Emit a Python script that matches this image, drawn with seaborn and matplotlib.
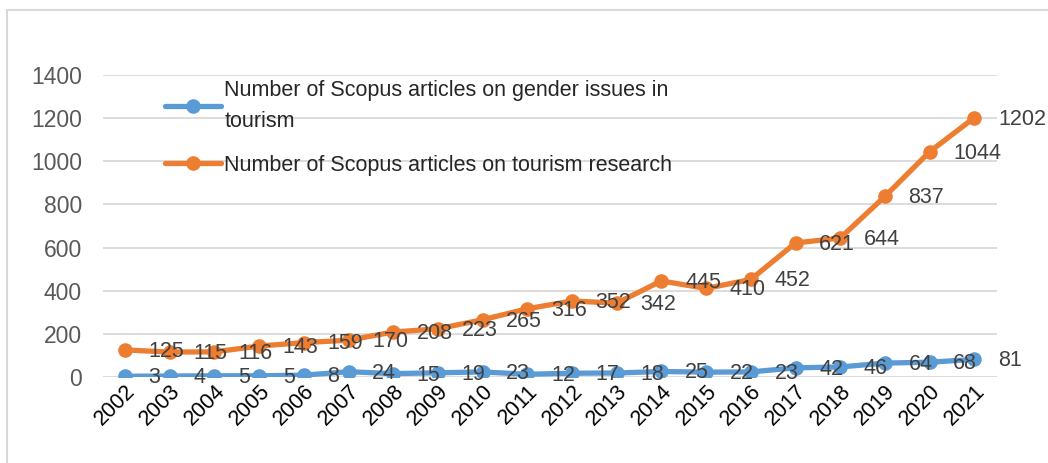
import pandas as pd
import matplotlib.pyplot as plt
import seaborn as sns
from matplotlib.lines import Line2D

years = [str(y) for y in range(2002, 2022)]
gender = [3, 4, 5, 5, 8, 24, 15, 19, 23, 12, 17, 18, 25, 22, 23, 42, 46, 64, 68, 81]
tourism = [125, 115, 116, 143, 159, 170, 208, 223, 265, 316, 352, 342, 445, 410, 452,
           621, 644, 837, 1044, 1202]
series_names = ["Number of Scopus articles on gender issues in\ntourism",
                "Number of Scopus articles on tourism research"]
colors = ["#5B9BD5", "#ED7D31"]

df = pd.DataFrame({"Year": years * 2,
                   "Count": gender + tourism,
                   "Series": [series_names[0]] * len(years) + [series_names[1]] * len(years)})

sns.set_style("white")
plt.rcParams['font.family'] = ['Liberation Sans', 'DejaVu Sans']

fig = plt.figure(figsize=(10.48, 4.63), dpi=100)
ax = fig.add_axes([0.098, 0.186, 0.853, 0.652])

sns.lineplot(data=df, x="Year", y="Count", hue="Series", palette=colors,
             marker="o", markersize=10.5, markeredgewidth=0, linewidth=3.8,
             sort=False, ax=ax)

# data labels to the right of each point
for vals in (gender, tourism):
    for i, v in enumerate(vals):
        ax.annotate(str(v), (i, v), xytext=(17, -1), textcoords="offset points",
                    ha="left", va="center", fontsize=15.5, color="#404040")

ax.set_xlim(-0.5, 19.5)
ax.set_ylim(0, 1400)
ax.set_yticks(range(0, 1401, 200))
ax.grid(axis="y", color="#d9d9d9", linewidth=1.3)
ax.set_axisbelow(True)
for s in ax.spines.values():
    s.set_visible(False)
ax.set_xlabel("")
ax.set_ylabel("")
ax.tick_params(axis="y", labelsize=16.5, labelcolor="#595959", length=0, pad=15)
ax.tick_params(axis="x", labelsize=15.5, labelcolor="#000000", length=0, pad=3)
plt.setp(ax.get_xticklabels(), rotation=45, ha="right", rotation_mode="anchor")

handles, labels = ax.get_legend_handles_labels()
leg = ax.legend(handles, labels, loc="upper left", bbox_to_anchor=(0.139, 0.87),
                bbox_transform=fig.transFigure, frameon=False, fontsize=15.5,
                handlelength=2.6, handletextpad=0.15, labelspacing=1.05)
for t in leg.get_texts():
    t.set_linespacing(1.65)

# chart frame: only left and top edges visible in the crop
fig.add_artist(Line2D([0.0067, 0.0067], [0.0, 0.978], transform=fig.transFigure,
                      color="#d9d9d9", linewidth=1.5))
fig.add_artist(Line2D([0.0067, 1.0], [0.978, 0.978], transform=fig.transFigure,
                      color="#d9d9d9", linewidth=1.5))

fig.savefig("out.png", dpi=100)
